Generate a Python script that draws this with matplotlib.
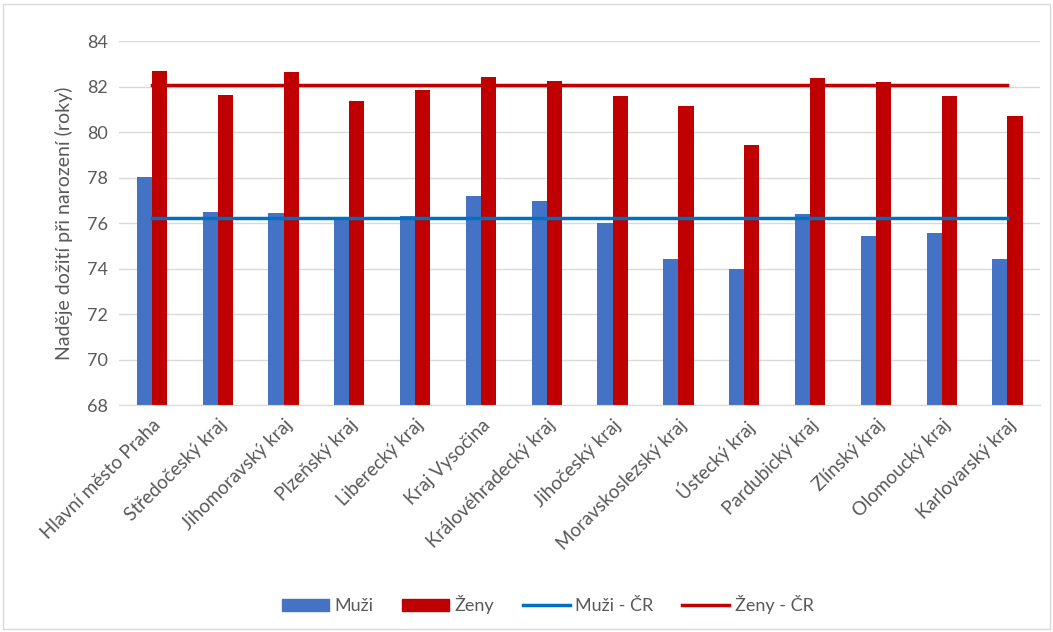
import numpy as np
import matplotlib.pyplot as plt
from matplotlib.patches import Patch, Rectangle
from matplotlib.lines import Line2D

plt.rcParams['font.family'] = ['Lato', 'DejaVu Sans']

kraje = ["Hlavní město Praha", "Středočeský kraj", "Jihomoravský kraj", "Plzeňský kraj",
         "Liberecký kraj", "Kraj Vysočina", "Královéhradecký kraj", "Jihočeský kraj",
         "Moravskoslezský kraj", "Ústecký kraj", "Pardubický kraj", "Zlínský kraj",
         "Olomoucký kraj", "Karlovarský kraj"]
muzi = [78.02, 76.50, 76.45, 76.28, 76.30, 77.17, 76.97, 76.00,
        74.43, 73.98, 76.41, 75.44, 75.55, 74.43]
zeny = [82.68, 81.61, 82.62, 81.36, 81.83, 82.43, 82.23, 81.57,
        81.16, 79.44, 82.37, 82.18, 81.57, 80.70]
muzi_cr = 76.23
zeny_cr = 82.07

modra = '#4472C4'
cervena = '#C00000'
modra_cara = '#0070C0'
seda = '#595959'

fig = plt.figure(figsize=(10.53, 6.32), dpi=100)
ax = fig.add_axes([0.113, 0.359, 0.875, 0.576])

x = np.arange(len(kraje))
w = 0.23
ax.bar(x - w / 2, muzi, width=w, color=modra, zorder=2)
ax.bar(x + w / 2, zeny, width=w, color=cervena, zorder=2)
ax.plot([x[0], x[-1]], [muzi_cr, muzi_cr], color=modra_cara, lw=2.5, zorder=3)
ax.plot([x[0], x[-1]], [zeny_cr, zeny_cr], color=cervena, lw=2.5, zorder=3)

ax.set_ylim(68, 84)
ax.set_yticks(range(68, 85, 2))
ax.set_xlim(-0.5, len(kraje) - 0.5)
ax.set_xticks(x)
ax.set_xticklabels(kraje, rotation=45, ha='right', rotation_mode='anchor', fontsize=13.5)
ax.tick_params(axis='y', labelsize=13)
ax.tick_params(axis='both', length=0, colors=seda, pad=8)
ax.grid(axis='y', color='#D9D9D9', lw=1, zorder=0)
for s in ['top', 'right', 'left']:
    ax.spines[s].set_visible(False)
ax.spines['bottom'].set_color('#D9D9D9')
ax.set_ylabel("Naděje dožití při narození (roky)", fontsize=14, color=seda, labelpad=10)

handles = [Patch(color=modra), Patch(color=cervena),
           Line2D([], [], color=modra_cara, lw=2.5), Line2D([], [], color=cervena, lw=2.5)]
labels = ["Muži", "Ženy", "Muži - ČR", "Ženy - ČR"]
fig.legend(handles, labels, loc='center', bbox_to_anchor=(0.52, 0.043), ncol=4,
           frameon=False, fontsize=13, labelcolor=seda, handlelength=2.6,
           handletextpad=0.3, columnspacing=1.6)

fig.patches.append(Rectangle((0.003, 0.004), 0.994, 0.99, transform=fig.transFigure,
                             fill=False, edgecolor='#D9D9D9', lw=1))

fig.savefig('out.png', dpi=100)
